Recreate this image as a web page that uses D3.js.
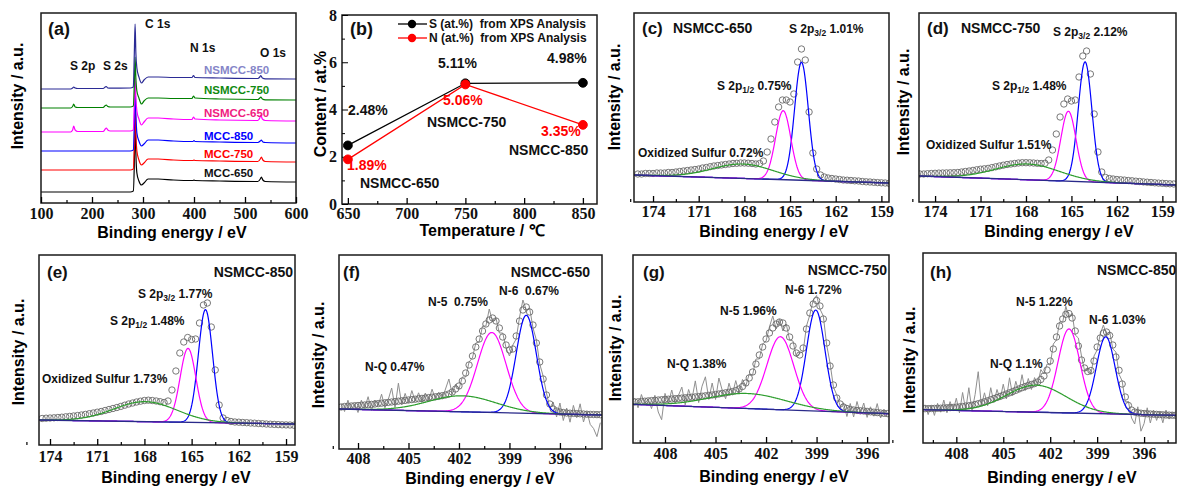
<!DOCTYPE html>
<html>
<head>
<meta charset="utf-8">
<script src="https://cdn.jsdelivr.net/npm/d3@7"></script>
<style>
  body { margin: 0; background: #fff; }
  text { font-family: "Liberation Sans", Arial, sans-serif; font-weight: bold; white-space: pre; }
</style>
</head>
<body>
<div id="chart"></div>
<script>
// ---------- (a) survey spectra: [binding energy, intensity (a.u.)] ----------
const surveyMCC650 = [[100,11],[275,11],[281,12],[283,40],[284.5,88],[286,50],[288,30],[292,22],[297,18],[302,20],[310,24],[330,24],[360,23],[398,22.5],[400,23],[402,22.5],[450,22],[525,21.5],[530,24],[532,26],[535,23],[540,21.5],[600,21]];
const surveyMCC750 = [[100,33],[275,33],[281,34],[283,60],[284.5,98],[286,70],[288,52],[292,43],[297,38],[302,40],[310,44],[330,44],[360,43],[398,42.5],[400,43],[402,42.5],[450,42],[525,41.5],[530,44],[532,46],[535,43],[540,41.5],[600,41]];
const surveyMCC850 = [[100,52],[275,52],[281,53],[283,80],[284.5,118],[286,90],[288,70],[292,62],[297,57],[302,59],[310,63],[330,63],[360,62],[398,61.5],[400,62.5],[402,61.5],[450,61],[525,60.5],[530,62],[532,63],[535,61],[540,60.5],[600,60]];
const surveyNSMCC650 = [[100,71],[158,71],[162,73],[164,77],[167,73],[172,71.5],[222,71.5],[226,74],[228,75],[231,73],[236,72],[275,72],[281,73],[283,100],[284.5,125],[286,105],[288,92],[292,84],[297,78],[302,81],[310,85],[330,85],[360,84],[396,83.5],[399,86],[402,84],[450,83],[525,82.5],[529,85],[531,88],[534,84],[540,82.5],[600,82]];
const surveyNSMCC750 = [[100,95],[158,95],[162,96.5],[164,99],[167,96],[172,95.5],[222,95.5],[226,97.5],[228,98],[231,96.5],[236,96],[275,96],[281,97],[283,120],[284.5,146],[286,125],[288,112],[292,105],[297,99],[302,102],[310,105],[330,105],[360,104.5],[396,104.5],[399,107],[402,105],[450,104],[525,103.5],[529,105],[531,106],[534,104],[540,103.2],[600,103]];
const surveyNSMCC850 = [[100,114],[158,114],[162,115],[164,116],[167,115],[172,114.5],[222,114.5],[226,116],[228,116.5],[231,115],[236,114.8],[275,115],[281,116],[283,150],[284.5,179],[286,150],[288,135],[292,126],[297,120],[302,123],[310,126],[330,126],[360,125.5],[396,125.5],[399,127.5],[402,125.5],[450,125],[525,124.5],[529,126],[531,127.5],[534,125],[540,124.2],[600,124]];
const surveyNames = ["MCC-650", "MCC-750", "MCC-850", "NSMCC-650", "NSMCC-750", "NSMCC-850"];
const surveyTicks = [100, 200, 300, 400, 500, 600];
const surveyMinor = [150, 250, 350, 450, 550];

// ---------- (b) content vs temperature ----------
const temps = [650, 750, 850];
const sContent = [2.48, 5.11, 5.13];
const nContent = [1.89, 5.06, 3.35];
const sLabels = ["2.48%", "5.11%", "4.98%"];
const nLabels = ["1.89%", "5.06%", "3.35%"];
const sampleNames = ["NSMCC-650", "NSMCC-750", "NSMCC-850"];
const tempTicks = [650, 700, 750, 800, 850];
const tempMinor = [675, 725, 775, 825];
const contentTicks = [0, 2, 4, 6, 8];
const contentMinor = [1, 3, 5, 7];

// ---------- S 2p spectra (c, d, e): counts every 0.25 eV ----------
const sTicks = [174, 171, 168, 165, 162, 159];
const sMinor = [175.5, 172.5, 169.5, 166.5, 163.5, 160.5];
const cStart = 175.0;
const cCounts = [28,28,28.5,28.5,28.5,29,29,29,29.5,29.5, 30,30.5,31,31.5,32,32.5,33,34,34.5,35.3,
  36,36.5,37,37.5,38,38.5,38.7,39,39,38.8, 38.5,38,38.5,41,50,63,80,95,102,102,
  100,108,140,153,142,90,49,33,27,25, 24,23.5,23,22.5,22,21.8,21.5,21.2,21,20.5, 20.2,20,19.7,19.4,19.2,19,18.7];
const cBaseline = [[175.25, 27], [158.5, 19]];
const cOxidized = [168.1, 14.4, 2.0];   // center, height, width
const cS2p12 = [165.45, 69, 0.5];
const cS2p32 = [164.25, 118, 0.45];

const dStart = 175.0;
const dCounts = [28,28,28.3,28.5,28.7,28.9,29,29.1,29.2,29.3, 29.5,30,30.5,31,31.6,32.2,32.8,33.2,33.6,34.4,
  35.2,36,36.8,37.5,38,38.5,39,39.3,39.3,39.2, 39,38.7,38.5,38.7,42,52,68,85,98,103,
  101,102,125,146,151,128,88,50,30,24.5, 23.5,23,22.5,22.2,21.9,21.5,21.2,20.8,20.5,20.1, 19.8,19.5,19.2,18.9,18.7,18.4,18.2,18];
const dBaseline = [[175.06, 26], [158.1, 17]];
const dOxidized = [167.9, 15.8, 2.1];
const dS2p12 = [165.2, 70, 0.5];
const dS2p32 = [164.1, 120, 0.45];

const eStart = 174.5;
const eCounts = [26.5,26.8,27,27.2,27.5,27.8,28.2,28.6,29,29.5, 30,30.6,31.3,32,32.8,33.5,34.5,35.5,36.5,37.5,
  38.6,39.8,41,42,43,43.8,44.5,44.8,44.5,44, 43.3,42.5,44,55,74,92,103,107.5,105.5,106,
  122,140,142,118,75,40,27,24.5,23.5,23, 22.8,22.5,22.3,22,21.8,21.5,21.3,21,20.8,20.6, 20.4,20.2,20.1,20,19.8];
const eBaseline = [[174.7, 25], [158.43, 21]];
const eOxidized = [167.95, 20, 2.0];
const eS2p12 = [165.23, 74, 0.5];
const eS2p32 = [164.12, 113, 0.45];

// ---------- N 1s spectra (f, g, h): smoothed and raw counts every 0.2 eV ----------
const nTicks = [408, 405, 402, 399, 396];
const nMinor = [409.5, 406.5, 403.5, 400.5, 397.5, 394.5];
const fStart = 409.0;
const fCounts = [42,42.5,42.8,43,43.3,43.5,43.8,44,44.3,44.6, 45,45.4,45.8,46.2,46.6,47,47.4,47.8,48.2,48.6,
  49,49.4,49.8,50.2,50.6,51,51.4,51.8,52.2,52.7, 53.3,54,55,57,60,63,68,76,84,93,
  102,110,118,125,129,131,128,121,112,104, 99,100,113,128,139,142,137,124,106,87,
  70,54,45,40,38,37,36.5,36,35.8,35.6, 35.4,35.2,35,34.8,34.6,34.5,34.4,34.3];
const fRaw = [45,37.5,48.8,39,45.3,36.5,48.8,41,52.3,38.6, 49,43.4,54.8,41.2,49.6,61,41.4,65.8,44.2,55.6,
  46,58.4,47.8,56.2,46.6,56,48.4,59.8,50.2,56.7, 50.3,60,70,55,65,60,72,72,87,91,
  106,107,123,123,140,127,131,116,116,101, 93,104,110,132,149,139,141,121,109,85,
  73,56,41,47,32,46,28.5,41,26.8,43.6, 31.4,45.2,27,37.8,24.6,20.5,12.4,26.3];
const fBaseline = [[409.13, 40], [393.5, 34]];
const fNQ = [401.8, 16, 2.0];
const fN5 = [400.05, 80, 0.85];
const fN6 = [398.0, 98, 0.6];

const gStart = 409.8;
const gCounts = [41,41.2,41.5,41.8,42.1,42.4,42.7,43,43.3,43.6, 43.8,44,44.3,44.6,44.9,45.2,45.5,45.8,46.1,46.4,
  46.8,47.2,47.6,48,48.5,49,49.6,50.2,50.8,51.4, 52.4,54,56.5,60,65,71,79,88,96,104,
  110,115,119,121,120,115,106,97,90,88, 95,114,130,139,142.5,137,124,100,77,58,
  45,39,36,34.5,33.5,33,32.5,32.2,32,31.6, 31.2,30.8,30.4,30,29.7,29.4];
const gRaw = [45,35.2,48.5,38.8,44.1,34.4,47.7,31,23.3,49.6, 39.8,53,39.3,47.6,55.9,38.2,53.5,43.8,62.1,40.4,
  56.8,66.2,43.6,60,43.5,65,52.6,44.2,59.8,48.4, 62.4,50,63.5,57,69,68,84,84,99,102,
  116,127,114,124,112,119,103,102,86,90, 91,117,128,143,147.5,134,127,98,80,56,
  48,37,40,26.5,39.5,26,41.5,29.2,40,25.6, 36.2,26.8,39.4,25,33.7,26.4];
const gBaseline = [[409.9, 38.7], [394.7, 29.3]];
const gNQ = [403.1, 15, 2.3];
const gN5 = [401.15, 73, 0.8];
const gN6 = [399.05, 101, 0.55];

const hStart = 410.0;
const hCounts = [34.3,34.4,34.5,34.6,34.7,34.8,35,35.2,35.4,35.6, 35.8,36.1,36.5,36.9,37.3,37.8,38.5,39.3,40.2,41.2,
  42.2,43.3,44.4,45.5,46.6,47.8,49,50.2,51.4,52.7, 54,55.3,56.5,57.5,58.5,59.4,61,63.5,67,73,
  82,94,106,117,124,128.7,129.4,125,112,97, 83,75,71.5,72.5,82,96,105,110,111,107.5,
  98,86,72.7,59,46,37.5,33,31,30.2,29.8, 29.5,29.2,29,28.8,28.6,28.4,28.2,28,27.9,27.8, 27.7];
const hRaw = [38.3,28.4,37.5,27.6,39.7,30.8,43,30.2,41.4,32.6, 44.8,30.1,50.5,32.9,55.3,31.8,48.5,71.3,37.2,50.2,
  37.2,55.3,40.4,53.5,43.6,58.8,44,65.2,47.4,61.7, 51,68.3,52.5,64.5,53.5,65.4,58,73.5,69,79,
  78,99,103,121,121,136.7,125.4,130,108,105, 87,72,74.5,68.5,87,93,109,118,108,111.5,
  94,91,68.7,62,41,41.5,25,19,36.2,11.8, 19.5,35.2,20,32.8,22.6,31.4,20.2,33,23.9,30.8, 25.7];
const hBaseline = [[410.13, 33.3], [393.96, 27.7]];
const hNQ = [402.9, 27, 1.9];
const hN5 = [400.8, 84, 0.7];
const hN6 = [398.45, 77, 0.6];

// ---------- drawing ----------
const svg = d3.select("#chart").append("svg").attr("width", 1177).attr("height", 491);
const serif = '"Liberation Serif", "Times New Roman", Times, serif';

function makePanel(id, box, xDomain, yDomain) {
  const x = d3.scaleLinear().domain(xDomain).range([box.x0, box.x1]);
  const y = d3.scaleLinear().domain(yDomain).range([box.y1, box.y0]);
  const g = svg.append("g");
  svg.append("clipPath").attr("id", "clip-" + id).append("rect")
    .attr("x", box.x0).attr("y", box.y0)
    .attr("width", box.x1 - box.x0).attr("height", box.y1 - box.y0);
  const plot = g.append("g").attr("clip-path", `url(#clip-${id})`);
  return { box, x, y, g, plot };
}

function frame(p) {
  p.g.append("rect")
    .attr("x", p.box.x0).attr("y", p.box.y0)
    .attr("width", p.box.x1 - p.box.x0).attr("height", p.box.y1 - p.box.y0)
    .attr("fill", "none").attr("stroke", "#1a1a1a").attr("stroke-width", 1.5);
}

function serifTicks(ax) {
  ax.selectAll("text")
    .style("font-family", serif).style("font-weight", "bold").style("font-size", "16px")
    .attr("fill", "#111");
}

function xAxis(p, major, minor, pad) {
  const ax = p.g.append("g").attr("transform", `translate(0,${p.box.y1})`)
    .call(d3.axisBottom(p.x).tickValues(major).tickSize(-6).tickPadding(pad).tickFormat(d3.format("d")));
  ax.select(".domain").remove();
  ax.selectAll("line").attr("stroke-width", 1.3);
  serifTicks(ax);
  const mn = p.g.append("g").attr("transform", `translate(0,${p.box.y1})`)
    .call(d3.axisBottom(p.x).tickValues(minor).tickSize(-3).tickFormat(""));
  mn.select(".domain").remove();
  mn.selectAll("line").attr("stroke-width", 1.2);
}

function xTitle(p, cx, by, txt) {
  p.g.append("text").attr("x", cx).attr("y", by).attr("text-anchor", "middle")
    .attr("font-size", 16).text(txt);
}

function yTitle(p, cx, cy, txt) {
  p.g.append("text").attr("transform", `translate(${cx},${cy}) rotate(-90)`)
    .attr("text-anchor", "middle").attr("dy", "0.35em").attr("font-size", 16).text(txt);
}

function label(p, x, y, txt, size, opts = {}) {
  return p.g.append("text").attr("x", x).attr("y", y).attr("font-size", size)
    .attr("text-anchor", opts.anchor || "start").attr("fill", opts.color || "#111").text(txt);
}

function subLabel(p, x, y, pre, sub, post) {
  const t = p.g.append("text").attr("x", x).attr("y", y).attr("font-size", 12).attr("fill", "#111");
  t.append("tspan").text(pre);
  t.append("tspan").attr("dy", 3).attr("font-size", 8.5).text(sub);
  t.append("tspan").attr("dy", -3).text(post);
}

function gauss(E, peak) {
  const [c, h, s] = peak;
  return h * Math.exp(-0.5 * ((E - c) / s) ** 2);
}

function fitPanel(p, start, step, counts, raw, baseline, peaks) {
  const energies = counts.map((_, i) => start - i * step);
  if (raw) {
    p.plot.append("path").datum(raw)
      .attr("fill", "none").attr("stroke", "#8f8f8f").attr("stroke-width", 1)
      .attr("d", d3.line().x((v, i) => p.x(energies[i])).y(v => p.y(v)));
  }
  p.plot.append("g").selectAll("circle").data(counts).join("circle")
    .attr("cx", (v, i) => p.x(energies[i])).attr("cy", v => p.y(v))
    .attr("r", 3.2).attr("fill", "none").attr("stroke", "#6a6a6a").attr("stroke-width", 0.9);

  const base = d3.scaleLinear().domain(baseline.map(d => d[0])).range(baseline.map(d => d[1]));
  const [lo, hi] = d3.extent(p.x.domain());
  const grid = d3.range(lo, hi + 0.001, 0.04);
  const colors = ["#2e9e2e", "#ff00ff", "#0000ff"];
  [2, 1, 0].forEach(k => {
    p.plot.append("path").datum(grid)
      .attr("fill", "none").attr("stroke", colors[k]).attr("stroke-width", 1.2)
      .attr("d", d3.line().x(E => p.x(E)).y(E => p.y(base(E) + gauss(E, peaks[k]))));
  });
  p.plot.append("path").datum(baseline)
    .attr("fill", "none").attr("stroke", "#2a2a8a").attr("stroke-width", 1.3)
    .attr("d", d3.line().x(d => p.x(d[0])).y(d => p.y(d[1])));
}

// ---------- panel (a) ----------
const pa = makePanel("a", { x0: 41, x1: 296, y0: 13, y1: 203 }, [100, 600], [0, 190]);
const surveyData = [surveyMCC650, surveyMCC750, surveyMCC850, surveyNSMCC650, surveyNSMCC750, surveyNSMCC850];
const surveyColors = ["#000000", "#ff0000", "#0000ff", "#ff00ff", "#008000", "#2b2b95"];
const surveyLabelColors = ["#111111", "#ff0000", "#0000ff", "#f0207f", "#108a10", "#8585c8"];
const surveyLine = d3.line().x(d => pa.x(d[0])).y(d => pa.y(d[1])).curve(d3.curveMonotoneX);
surveyData.forEach((s, i) => {
  pa.plot.append("path").datum(s).attr("fill", "none")
    .attr("stroke", surveyColors[i]).attr("stroke-width", 1.2).attr("d", surveyLine);
});
frame(pa);
xAxis(pa, surveyTicks, surveyMinor, 5);
xTitle(pa, 172, 238, "Binding energy / eV");
yTitle(pa, 17, 96, "Intensity / a.u.");
label(pa, 48, 35, "(a)", 18);
const surveyLabelY = [177, 158, 140, 117, 94, 74];
surveyNames.forEach((n, i) => label(pa, 204, surveyLabelY[i], n, 11.5, { color: surveyLabelColors[i] }));
label(pa, 145, 28, "C 1s", 12);
label(pa, 190, 52, "N 1s", 12);
label(pa, 260, 57, "O 1s", 12);
label(pa, 70, 70, "S 2p", 12);
label(pa, 103, 70, "S 2s", 12);

// ---------- panel (b) ----------
const pb = makePanel("b", { x0: 342, x1: 597, y0: 15, y1: 204 }, [645, 862], [0, 8]);
frame(pb);
xAxis(pb, tempTicks, tempMinor, 4);
const yb = pb.g.append("g").attr("transform", `translate(${pb.box.x0},0)`)
  .call(d3.axisLeft(pb.y).tickValues(contentTicks).tickSize(-6).tickPadding(5));
yb.select(".domain").remove();
serifTicks(yb);
const ybm = pb.g.append("g").attr("transform", `translate(${pb.box.x0},0)`)
  .call(d3.axisLeft(pb.y).tickValues(contentMinor).tickSize(-3).tickFormat(""));
ybm.select(".domain").remove();
xTitle(pb, 482, 236, "Temperature / \u2103");
yTitle(pb, 320, 104, "Content / at.%");
const contentLine = d3.line().x((v, i) => pb.x(temps[i])).y(v => pb.y(v));
[[sContent, "#000000"], [nContent, "#ff0000"]].forEach(([vals, col]) => {
  pb.g.append("path").datum(vals).attr("fill", "none").attr("stroke", col)
    .attr("stroke-width", 1.3).attr("d", contentLine);
  pb.g.selectAll(null).data(vals).join("circle")
    .attr("cx", (v, i) => pb.x(temps[i])).attr("cy", v => pb.y(v))
    .attr("r", 4.4).attr("fill", col).attr("stroke", col);
});
label(pb, 350, 35, "(b)", 18);
// legend
[["S (at.%)  from XPS Analysis", "#000000", 24], ["N (at.%)  from XPS Analysis", "#ff0000", 38]].forEach(([t, col, ly]) => {
  pb.g.append("line").attr("x1", 398).attr("x2", 427).attr("y1", ly).attr("y2", ly)
    .attr("stroke", col).attr("stroke-width", 1.3);
  pb.g.append("circle").attr("cx", 412).attr("cy", ly).attr("r", 4.2).attr("fill", col);
  label(pb, 429, ly + 4, t, 12);
});
const sLabelPos = [[348, 115], [438, 68], [547, 63]];
const nLabelPos = [[347, 170], [443, 105], [541, 136]];
const namePos = [[360, 188], [427, 127], [509, 155]];
sLabels.forEach((t, i) => label(pb, sLabelPos[i][0], sLabelPos[i][1], t, 14));
nLabels.forEach((t, i) => label(pb, nLabelPos[i][0], nLabelPos[i][1], t, 14, { color: "#ff0000" }));
sampleNames.forEach((t, i) => label(pb, namePos[i][0], namePos[i][1], t, 14));

// ---------- panel (c) ----------
const pc = makePanel("c", { x0: 634, x1: 889, y0: 13, y1: 202 }, [175.25, 158.5], [0, 189]);
fitPanel(pc, cStart, 0.25, cCounts, null, cBaseline, [cOxidized, cS2p12, cS2p32]);
frame(pc);
xAxis(pc, sTicks, sMinor, 4);
xTitle(pc, 774, 237, "Binding energy / eV");
yTitle(pc, 614, 97, "Intensity / a.u.");
label(pc, 642, 34, "(c)", 17);
label(pc, 673, 33, "NSMCC-650", 14);
subLabel(pc, 789, 33, "S 2p", "3/2", " 1.01%");
subLabel(pc, 717, 90, "S 2p", "1/2", " 0.75%");
label(pc, 638, 157, "Oxidized Sulfur 0.72%", 12);

// ---------- panel (d) ----------
const pd = makePanel("d", { x0: 919, x1: 1176, y0: 13, y1: 202 }, [175.06, 158.1], [0, 189]);
fitPanel(pd, dStart, 0.25, dCounts, null, dBaseline, [dOxidized, dS2p12, dS2p32]);
frame(pd);
xAxis(pd, sTicks, sMinor, 4);
xTitle(pd, 1059, 237, "Binding energy / eV");
yTitle(pd, 903, 102, "Intensity / a.u.");
label(pd, 927, 34, "(d)", 17);
label(pd, 961, 33, "NSMCC-750", 14);
subLabel(pd, 1053, 36, "S 2p", "3/2", " 2.12%");
subLabel(pd, 992, 90, "S 2p", "1/2", " 1.48%");
label(pd, 926, 149, "Oxidized Sulfur 1.51%", 12);

// ---------- panel (e) ----------
const pe = makePanel("e", { x0: 39, x1: 295, y0: 255, y1: 445 }, [174.7, 158.43], [0, 190]);
fitPanel(pe, eStart, 0.25, eCounts, null, eBaseline, [eOxidized, eS2p12, eS2p32]);
frame(pe);
xAxis(pe, sTicks, sMinor, 6);
xTitle(pe, 176, 483, "Binding energy / eV");
yTitle(pe, 18, 352, "Intensity / a.u.");
label(pe, 47, 278, "(e)", 17);
label(pe, 293, 277, "NSMCC-850", 14, { anchor: "end" });
subLabel(pe, 138, 298, "S 2p", "3/2", " 1.77%");
subLabel(pe, 110, 325, "S 2p", "1/2", " 1.48%");
label(pe, 42, 383, "Oxidized Sulfur 1.73%", 12);

// ---------- panel (f) ----------
const pf = makePanel("f", { x0: 339, x1: 602, y0: 255, y1: 449 }, [409.13, 393.5], [0, 194]);
fitPanel(pf, fStart, 0.2, fCounts, fRaw, fBaseline, [fNQ, fN5, fN6]);
frame(pf);
xAxis(pf, nTicks, nMinor, 4);
xTitle(pf, 480, 484, "Binding energy / eV");
yTitle(pf, 318, 355, "Intensity / a.u.");
label(pf, 343, 278, "(f)", 17);
label(pf, 590, 277, "NSMCC-650", 14, { anchor: "end" });
label(pf, 428, 306, "N-5  0.75%", 12);
label(pf, 499, 295, "N-6  0.67%", 12);
label(pf, 365, 371, "N-Q 0.47%", 12);

// ---------- panel (g) ----------
const pg = makePanel("g", { x0: 633, x1: 889, y0: 255, y1: 443 }, [409.9, 394.7], [0, 188]);
fitPanel(pg, gStart, 0.2, gCounts, gRaw, gBaseline, [gNQ, gN5, gN6]);
frame(pg);
xAxis(pg, nTicks, nMinor, 5);
xTitle(pg, 774, 482, "Binding energy / eV");
yTitle(pg, 615, 348, "Intensity / a.u.");
label(pg, 643, 278, "(g)", 17);
label(pg, 887, 275, "NSMCC-750", 14, { anchor: "end" });
label(pg, 785, 294, "N-6 1.72%", 12);
label(pg, 720, 315, "N-5 1.96%", 12);
label(pg, 667, 368, "N-Q 1.38%", 12);

// ---------- panel (h) ----------
const ph = makePanel("h", { x0: 923, x1: 1176, y0: 253, y1: 443 }, [410.13, 393.96], [0, 190]);
fitPanel(ph, hStart, 0.2, hCounts, hRaw, hBaseline, [hNQ, hN5, hN6]);
frame(ph);
xAxis(ph, nTicks, nMinor, 5);
xTitle(ph, 1062, 483, "Binding energy / eV");
yTitle(ph, 909, 360, "Intensity / a.u.");
label(ph, 930, 278, "(h)", 17);
label(ph, 1097, 275, "NSMCC-850", 14);
label(ph, 1016, 306, "N-5 1.22%", 12);
label(ph, 1089, 324, "N-6 1.03%", 12);
label(ph, 990, 368, "N-Q 1.1%", 12);
</script>
</body>
</html>
